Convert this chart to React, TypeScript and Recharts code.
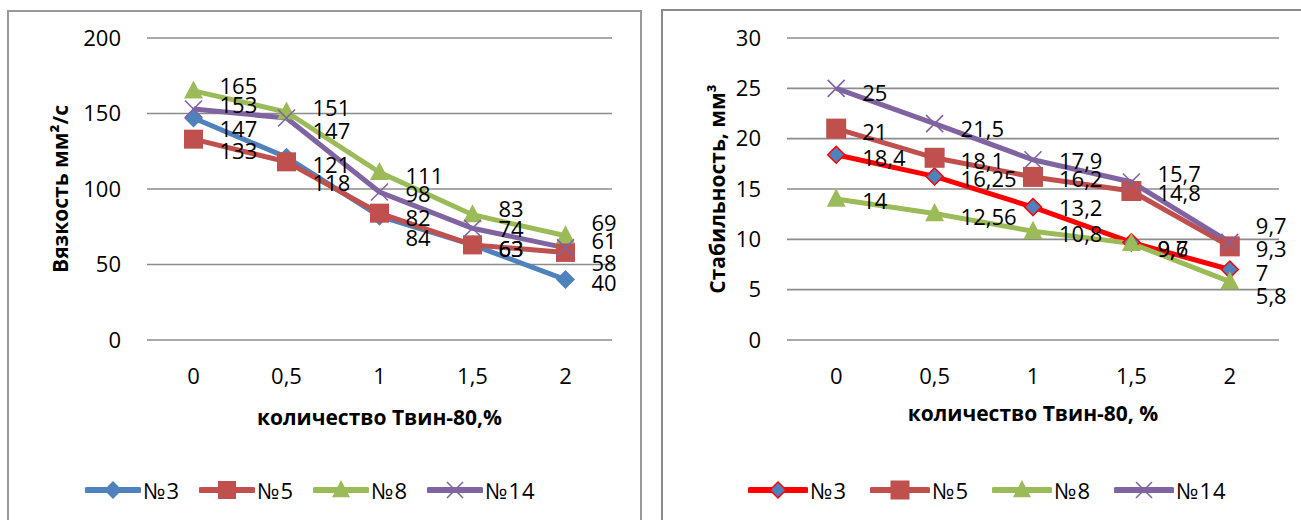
import React from 'react';
import { LineChart, Line, XAxis, YAxis, CartesianGrid, Legend, LabelList, Label } from 'recharts';

const FONT = '"Open Sans", "Noto Sans", sans-serif';

// Tween-80 dose, %
const doses = ['0', '0,5', '1', '1,5', '2'];

// viscosity, mm²/s
const viscosityN3 = [147, 121, 82, 63, 40];
const viscosityN5 = [133, 118, 84, 63, 58];
const viscosityN8 = [165, 151, 111, 83, 69];
const viscosityN14 = [153, 147, 98, 74, 61];

// stability, mm³
const stabilityN3 = [18.4, 16.25, 13.2, 9.7, 7];
const stabilityN5 = [21, 18.1, 16.2, 14.8, 9.3];
const stabilityN8 = [14, 12.56, 10.8, 9.6, 5.8];
const stabilityN14 = [25, 21.5, 17.9, 15.7, 9.7];

const viscosityTicks = [0, 50, 100, 150, 200];
const stabilityTicks = [0, 5, 10, 15, 20, 25, 30];

const viscosityRows = doses.map((dose, i) => ({
  dose,
  n3: viscosityN3[i],
  n5: viscosityN5[i],
  n8: viscosityN8[i],
  n14: viscosityN14[i],
}));

const stabilityRows = doses.map((dose, i) => ({
  dose,
  n3: stabilityN3[i],
  n5: stabilityN5[i],
  n8: stabilityN8[i],
  n14: stabilityN14[i],
}));

type Shape = 'diamond' | 'square' | 'triangle' | 'x';

interface SeriesDef {
  key: string;
  name: string;
  color: string;
  fill: string;
  outline?: string;
  shape: Shape;
  size: number;
  // vertical nudge of each value label, so the labels don't pile up
  labelDy: number[];
}

const viscositySeries: SeriesDef[] = [
  { key: 'n3', name: '№3', color: '#4F81BD', fill: '#4F81BD', shape: 'diamond', size: 19, labelDy: [10, 7, 1, 3, 2] },
  { key: 'n5', name: '№5', color: '#C0504D', fill: '#C0504D', shape: 'square', size: 19, labelDy: [11, 20, 24, 3, 10] },
  { key: 'n8', name: '№8', color: '#9BBB59', fill: '#9BBB59', shape: 'triangle', size: 19, labelDy: [-6, -5, 3, -7, -14] },
  { key: 'n14', name: '№14', color: '#8064A2', fill: '#8064A2', shape: 'x', size: 17, labelDy: [-5, 12, 1, 0, -8] },
];

const stabilitySeries: SeriesDef[] = [
  { key: 'n3', name: '№3', color: '#FF0000', fill: '#4F81BD', outline: '#FF0000', shape: 'diamond', size: 17, labelDy: [2, 2, 0, 6, 2] },
  { key: 'n5', name: '№5', color: '#C0504D', fill: '#C0504D', shape: 'square', size: 20, labelDy: [2, 2, 1, 1, 2] },
  { key: 'n8', name: '№8', color: '#9BBB59', fill: '#9BBB59', shape: 'triangle', size: 19, labelDy: [1, 2, 2, 5, 13] },
  { key: 'n14', name: '№14', color: '#8064A2', fill: '#8064A2', shape: 'x', size: 17, labelDy: [4, 4, 0, -9, -17] },
];

function Marker({ cx, cy, s }: { cx: number; cy: number; s: SeriesDef }) {
  const h = s.size / 2;
  const stroke = s.outline ?? s.fill;
  if (s.shape === 'diamond') {
    return (
      <polygon
        points={`${cx},${cy - h} ${cx + h},${cy} ${cx},${cy + h} ${cx - h},${cy}`}
        fill={s.fill}
        stroke={stroke}
        strokeWidth={s.outline ? 1.5 : 0}
      />
    );
  }
  if (s.shape === 'square') {
    return <rect x={cx - h} y={cy - h} width={s.size} height={s.size} fill={s.fill} />;
  }
  if (s.shape === 'triangle') {
    return (
      <polygon
        points={`${cx},${cy - h * 1.1} ${cx + h},${cy + h * 0.8} ${cx - h},${cy + h * 0.8}`}
        fill={s.fill}
      />
    );
  }
  return (
    <g stroke={s.fill} strokeWidth={1.6}>
      <line x1={cx - h} y1={cy - h} x2={cx + h} y2={cy + h} />
      <line x1={cx - h} y1={cy + h} x2={cx + h} y2={cy - h} />
    </g>
  );
}

const fmt = (v: number) => String(v).replace('.', ',');

function makeLabel(shifts: number[]) {
  return (props: any) => {
    const { x, y, value, index } = props;
    if (x == null || y == null) return null;
    return (
      <text
        x={x + 26}
        y={y + (shifts[index] ?? 0)}
        dominantBaseline="central"
        textAnchor="start"
        fontSize={22}
        fontFamily={FONT}
        fill="#000"
      >
        {fmt(value)}
      </text>
    );
  };
}

function makeLegend(series: SeriesDef[], lineLen: number, gap: number) {
  return () => (
    <div style={{ display: 'flex', alignItems: 'center', fontFamily: FONT, fontSize: 22, color: '#000' }}>
      {series.map((s) => (
        <div key={s.key} style={{ display: 'flex', alignItems: 'center', marginRight: gap }}>
          <svg width={lineLen + 4} height={24}>
            <line
              x1={2}
              y1={12}
              x2={lineLen + 2}
              y2={12}
              stroke={s.color}
              strokeWidth={6}
              strokeLinecap="round"
            />
            <Marker cx={lineLen / 2 + 2} cy={12} s={{ ...s, size: s.size - 1 }} />
          </svg>
          <span style={{ marginLeft: 2, letterSpacing: 1 }}>{s.name}</span>
        </div>
      ))}
    </div>
  );
}

function yTitle(text: string, cx: number) {
  return (props: any) => {
    const vb = props.viewBox;
    const x = vb.x + cx;
    const y = vb.y + vb.height / 2;
    return (
      <text
        x={x}
        y={y}
        transform={`rotate(-90 ${x} ${y})`}
        textAnchor="middle"
        dominantBaseline="central"
        fontFamily={FONT}
        fontWeight={700}
        fontSize={21}
        fill="#000"
      >
        {text}
      </text>
    );
  };
}

function xTitle(text: string, dy: number) {
  return (props: any) => {
    const vb = props.viewBox;
    return (
      <text
        x={vb.x + vb.width / 2}
        y={vb.y + dy}
        textAnchor="middle"
        dominantBaseline="central"
        fontFamily={FONT}
        fontWeight={700}
        fontSize={21}
        fill="#000"
      >
        {text}
      </text>
    );
  };
}

interface PanelProps {
  rows: any[];
  series: SeriesDef[];
  ticks: number[];
  yMax: number;
  width: number;
  axisWidth: number;
  right: number;
  band: number;
  yLabel: string;
  yLabelX: number;
  xLabel: string;
  xLabelDy: number;
  lineWidth: number;
  legendLeft: number;
  legendLine: number;
  legendGap: number;
}

function Panel(p: PanelProps) {
  return (
    <LineChart
      width={p.width}
      height={520}
      data={p.rows}
      margin={{ top: 38, right: p.right, bottom: 0, left: 0 }}
    >
      <CartesianGrid vertical={false} stroke="#8c8c8c" strokeWidth={1.6} />
      <XAxis
        dataKey="dose"
        height={180}
        axisLine={false}
        tickLine={false}
        tickSize={0}
        tickMargin={28}
        padding={{ left: p.band / 2, right: p.band / 2 }}
        tick={{ fill: '#000', fontSize: 22, fontFamily: FONT }}
      >
        <Label content={xTitle(p.xLabel, p.xLabelDy)} />
      </XAxis>
      <YAxis
        width={p.axisWidth}
        domain={[0, p.yMax]}
        ticks={p.ticks}
        axisLine={false}
        tickLine={false}
        tickSize={0}
        tickMargin={26}
        tick={{ fill: '#000', fontSize: 22, fontFamily: FONT }}
      >
        <Label content={yTitle(p.yLabel, p.yLabelX)} />
      </YAxis>
      <Legend
        layout="horizontal"
        verticalAlign="middle"
        align="center"
        wrapperStyle={{ top: 475, left: p.legendLeft, width: 600, height: 26 }}
        content={makeLegend(p.series, p.legendLine, p.legendGap)}
      />
      {p.series.map((s) => (
        <Line
          key={s.key}
          dataKey={s.key}
          name={s.name}
          stroke={s.color}
          strokeWidth={p.lineWidth}
          isAnimationActive={false}
          dot={(d: any) => <Marker key={`${s.key}-${d.index}`} cx={d.cx} cy={d.cy} s={s} />}
          activeDot={false}
        >
          <LabelList dataKey={s.key} content={makeLabel(s.labelDy)} />
        </Line>
      ))}
    </LineChart>
  );
}

export default function App() {
  return (
    <div
      style={{
        position: 'absolute',
        left: 0,
        top: 0,
        width: 1301,
        height: 520,
        overflow: 'hidden',
        background: '#fff',
      }}
    >
      <div
        style={{
          position: 'absolute',
          left: 7,
          top: 10,
          width: 635,
          height: 510,
          border: '2px solid #999',
          borderBottom: 'none',
          boxSizing: 'border-box',
        }}
      />
      <div
        style={{
          position: 'absolute',
          left: 661,
          top: 9,
          width: 700,
          height: 511,
          border: '2px solid #8a8a8a',
          borderBottom: 'none',
          boxSizing: 'border-box',
        }}
      />
      <div style={{ position: 'absolute', left: 0, top: 0 }}>
        <Panel
          rows={viscosityRows}
          series={viscositySeries}
          ticks={viscosityTicks}
          yMax={200}
          width={641}
          axisWidth={147}
          right={29}
          band={93}
          yLabel="Вязкость мм²/с"
          yLabelX={60}
          xLabel="количество Твин-80,%"
          xLabelDy={77}
          lineWidth={5}
          legendLeft={85}
          legendLine={52}
          legendGap={19}
        />
      </div>
      <div style={{ position: 'absolute', left: 650, top: 0 }}>
        <Panel
          rows={stabilityRows}
          series={stabilitySeries}
          ticks={stabilityTicks}
          yMax={30}
          width={651}
          axisWidth={137}
          right={22}
          band={98.4}
          yLabel="Стабильность, мм³"
          yLabelX={67}
          xLabel="количество Твин-80, %"
          xLabelDy={73}
          lineWidth={5}
          legendLeft={98}
          legendLine={56}
          legendGap={23}
        />
      </div>
    </div>
  );
}
